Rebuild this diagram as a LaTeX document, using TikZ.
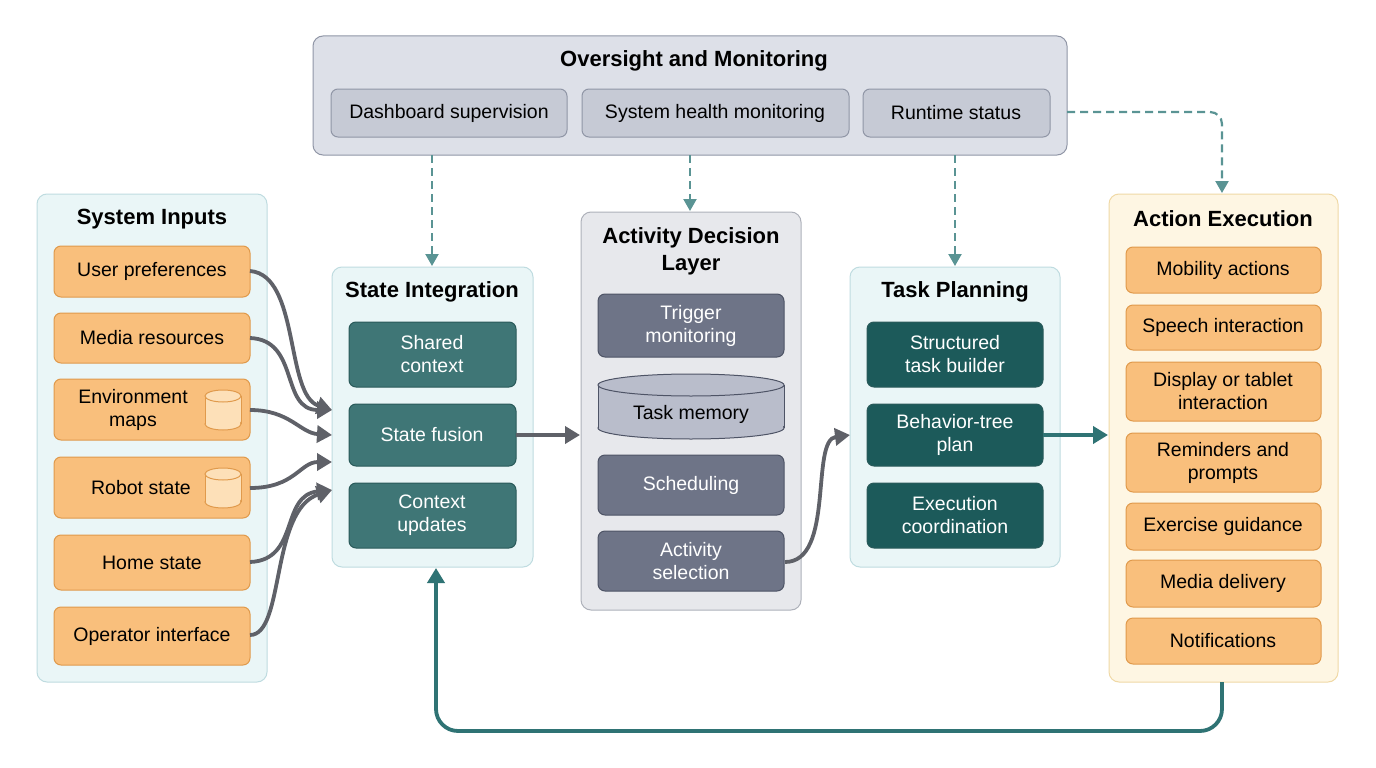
\documentclass[tikz,border=0pt]{standalone}
\usepackage{fontspec}
\setmainfont{Liberation Sans}
\usetikzlibrary{arrows.meta}
\definecolor{orF}{HTML}{F9BF7C}\definecolor{orD}{HTML}{E09A4C}
\definecolor{tlA}{HTML}{3F7676}\definecolor{tlB}{HTML}{1C5A5A}\definecolor{tlD}{HTML}{2A5A5A}
\definecolor{gyI}{HTML}{6E7487}\definecolor{gyD}{HTML}{4E5466}
\definecolor{cyP}{HTML}{EAF6F7}\definecolor{cyD}{HTML}{BFDCE0}
\definecolor{grP}{HTML}{E7E8EC}\definecolor{grD}{HTML}{AEB1BA}
\definecolor{ovP}{HTML}{DDE0E8}\definecolor{ovD}{HTML}{9096A6}\definecolor{ovI}{HTML}{C6CAD5}
\definecolor{mmF}{HTML}{B9BDCB}
\definecolor{acP}{HTML}{FEF6E3}\definecolor{acD}{HTML}{F0D9A6}
\definecolor{arG}{HTML}{5F6168}\definecolor{arT}{HTML}{2F7374}\definecolor{dsh}{HTML}{5A9494}
\definecolor{cylF}{HTML}{FDE0B8}
\tikzset{x=1pt,y=-1pt,
 box/.style={rounded corners=7pt,line width=1pt,inner sep=0pt},
 panel/.style={box,rounded corners=10pt},
 ttl/.style={font=\bfseries\fontsize{22}{25}\selectfont,align=center},
 lbl/.style={font=\fontsize{19.5}{23}\selectfont,align=center},
 wl/.style={lbl,text=white},
 ga/.style={draw=arG,line width=3.8pt,-{Triangle[length=15pt,width=17pt]}},
 da/.style={draw=dsh,line width=2.2pt,dash pattern=on 8pt off 5pt,-{Triangle[length=12pt,width=13pt]}}}
% cx, top, bottom, halfwidth, ry, fill, draw
\newcommand{\mycyl}[7]{%
 \fill[#6] (#1-#4,#2) rectangle (#1+#4,#3);
 \draw[fill=#6,draw=#7,line width=1pt] (#1,#3) ellipse[x radius=#4,y radius=#5];
 \fill[#6] (#1-#4+0.6,#2) rectangle (#1+#4-0.6,#3);
 \draw[draw=#7,line width=1pt] (#1-#4,#2) -- (#1-#4,#3) (#1+#4,#2) -- (#1+#4,#3);
 \draw[fill=#6,draw=#7,line width=1pt] (#1,#2) ellipse[x radius=#4,y radius=#5];}
\begin{document}
\begin{tikzpicture}
\useasboundingbox (0,0) rectangle (1376,768);
\fill[white] (0,0) rectangle (1376,768);
% panels
\draw[panel,fill=ovP,draw=ovD] (313,36) rectangle (1067,155);
\node[ttl] (ovt) at (694,61) {Oversight and Monitoring};
\draw[panel,fill=cyP,draw=cyD] (37,194) rectangle (267,682);
\node[ttl] (sit) at (152,219) {System Inputs};
\draw[panel,fill=cyP,draw=cyD] (332,267) rectangle (533,567);
\node[ttl] (stt) at (432,292) {State Integration};
\draw[panel,fill=grP,draw=grD] (581,212) rectangle (801,610);
\node[ttl,font=\bfseries\fontsize{22}{27}\selectfont] (adt) at (691,251) {Activity Decision\\Layer};
\draw[panel,fill=cyP,draw=cyD] (850,267) rectangle (1060,567);
\node[ttl] (tpt) at (955,292) {Task Planning};
\draw[panel,fill=acP,draw=acD] (1109,194) rectangle (1338,682);
\node[ttl] (aet) at (1223,219) {Action Execution};
% oversight items
\draw[box,fill=ovI,draw=ovD] (331,89) rectangle (567,137);
\node[lbl] (dash) at (449,113) {Dashboard supervision};
\draw[box,fill=ovI,draw=ovD] (582,89) rectangle (849,137);
\node[lbl] (health) at (715,113) {System health monitoring};
\draw[box,fill=ovI,draw=ovD] (863,89) rectangle (1050,137);
\node[lbl] (rt) at (956,113) {Runtime status};
% inputs
\foreach \n/\a/\b/\t in {up/246/297/User preferences,mr/313/363/Media resources,hs/535/590/Home state,oi/607/665/Operator interface}{
 \draw[box,fill=orF,draw=orD] (54,\a) rectangle (250,\b);
 \node[lbl] (\n) at (152,{(\a+\b)/2}) {\t};}
\draw[box,fill=orF,draw=orD] (54,379) rectangle (250,440);
\node[lbl] (em) at (133,410) {Environment\\maps};
\mycyl{223}{396}{424}{18}{6}{cylF}{orD}
\draw[box,fill=orF,draw=orD] (54,457) rectangle (250,518);
\node[lbl] (rs) at (141,488) {Robot state};
\mycyl{223}{474}{502}{18}{6}{cylF}{orD}
% state items
\foreach \n/\a/\b/\t in {sc/322/387/Shared\\context,sf/404/466/State fusion,cu/483/548/Context\\updates}{
 \draw[box,fill=tlA,draw=tlD] (349,\a) rectangle (516,\b);
 \node[wl] (\n) at (432,{(\a+\b)/2}) {\t};}
% activity items
\foreach \n/\a/\b/\t in {tm/294/357/Trigger\\monitoring,sch/455/515/Scheduling,as/531/591/Activity\\selection}{
 \draw[box,fill=gyI,draw=gyD] (598,\a) rectangle (784,\b);
 \node[wl] (\n) at (691,{(\a+\b)/2}) {\t};}
\mycyl{691}{385}{428}{93}{11}{mmF}{gyD}
\node[lbl] (mem) at (691,414) {Task memory};
% task items
\foreach \n/\a/\b/\t in {stb/322/387/Structured\\task builder,bt/404/466/Behavior-tree\\plan,ec/483/548/Execution\\coordination}{
 \draw[box,fill=tlB,draw=tlD] (867,\a) rectangle (1043,\b);
 \node[wl] (\n) at (955,{(\a+\b)/2}) {\t};}
% action items
\foreach \n/\a/\b/\t in {ma/247/293/Mobility actions,si/305/350/Speech interaction,dt/362/421/Display or tablet\\interaction,rp/433/492/Reminders and\\prompts,eg/503/550/Exercise guidance,md/560/607/Media delivery,nt/618/664/Notifications}{
 \draw[box,fill=orF,draw=orD] (1126,\a) rectangle (1321,\b);
 \node[lbl] (\n) at (1223,{(\a+\b)/2}) {\t};}
% coordinates
\coordinate (siL) at (332,410); \coordinate (siL2) at (332,435);
\coordinate (siL3) at (332,462); \coordinate (siL4) at (332,490);
% gray arrows
\draw[ga] (250,271) .. controls (300,275) and (285,395) .. (siL);
\draw[ga] (250,338) .. controls (300,340) and (280,410) .. (siL);
\draw[ga] (250,410) .. controls (290,410) and (300,433) .. (siL2);
\draw[ga] (250,488) .. controls (295,488) and (300,462) .. (siL3);
\draw[ga] (250,562) .. controls (300,560) and (280,495) .. (siL4);
\draw[ga] (250,635) .. controls (285,635) and (270,510) .. (siL4);
\draw[ga] (516,435) -- (580,435);
\draw[ga] (785,562) .. controls (835,562) and (810,440) .. (850,435);
\draw[draw=arT,line width=3.8pt,-{Triangle[length=15pt,width=17pt]}] (1043,435) -- (1108,435);
% dashed
\draw[da] (432,155) -- (432,266);
\draw[da] (690,155) -- (690,211);
\draw[da] (955,155) -- (955,266);
\draw[da] (1067,112) -- (1210,112) to[out=0,in=90] (1222,124) -- (1222,193);
% feedback
\draw[draw=arT,line width=3.8pt,rounded corners=22pt,-{Triangle[length=15pt,width=17pt]}] (1222,682) -- (1222,731) -- (436,731) -- (436,568);
\end{tikzpicture}
\end{document}
